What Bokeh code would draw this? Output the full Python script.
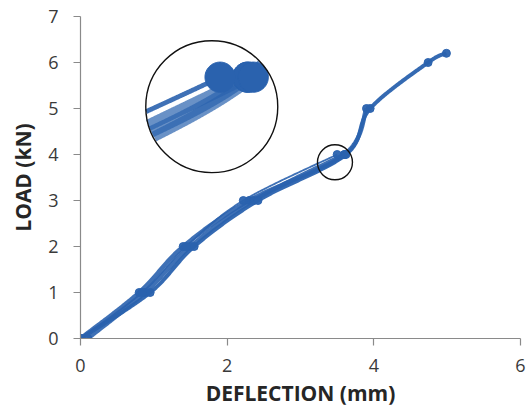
import numpy as np
from bokeh.plotting import figure
from bokeh.models import Range1d
from bokeh.embed import file_html
from bokeh.resources import INLINE

# ---------------- data ----------------
x_ticks = [0, 2, 4, 6]
y_ticks = [0, 1, 2, 3, 4, 5, 6, 7]

defl_a = [0.00, 0.95, 1.55, 2.42, 3.62, 3.95, 4.74, 4.99]
load_a = [0.00, 1.00, 2.00, 3.00, 4.00, 5.00, 6.00, 6.20]

defl_b = [0.00, 0.80, 1.40, 2.30, 3.60, 3.90]
load_b = [0.00, 1.00, 2.00, 3.00, 4.00, 5.00]

defl_c = [0.00, 0.84, 1.44, 2.22, 3.50]
load_c = [0.00, 1.00, 2.00, 3.00, 4.00]

defl_d = [0.10, 0.88, 1.50, 2.36, 3.60]
load_d = [0.00, 1.00, 2.00, 3.00, 4.00]

# magnifier (zoom circle) : small circle around the 4 kN region, big inset circle
zoom_src = (3.47, 3.83)
zoom_dst = (1.79, 5.04)

# ---------------- layout ----------------
X_MIN, X_MAX = 0, 6
Y_MIN, Y_MAX = 0, 7
FRAME_W, FRAME_H = 440, 322
SX = FRAME_W / (X_MAX - X_MIN)
SY = FRAME_H / (Y_MAX - Y_MIN)
R_SMALL = 17.5
R_BIG = 66.0
MAG = R_BIG / R_SMALL

BLUE = "#2A62AE"
FONT = "Open Sans"

p = figure(frame_width=FRAME_W, frame_height=FRAME_H,
           x_range=Range1d(X_MIN, X_MAX), y_range=Range1d(Y_MIN, Y_MAX),
           output_backend="svg", toolbar_location=None,
           min_border_left=80, min_border_right=8, min_border_top=16, min_border_bottom=68)
p.outline_line_color = None
p.xgrid.visible = False
p.ygrid.visible = False
p.background_fill_color = "white"
p.border_fill_color = "white"


def smooth(xs, ys, n=60):
    P = np.column_stack([xs, ys]).astype(float)
    out = []
    for i in range(len(P) - 1):
        p0 = P[i - 1] if i > 0 else P[i]
        p1 = P[i]
        p2 = P[i + 1]
        p3 = P[i + 2] if i + 2 < len(P) else P[i + 1]
        c1 = p1 + (p2 - p0) / 6.0
        c2 = p2 - (p3 - p1) / 6.0
        t = np.linspace(0, 1, n, endpoint=(i == len(P) - 2))[:, None]
        b = ((1 - t) ** 3) * p1 + 3 * ((1 - t) ** 2) * t * c1 + 3 * (1 - t) * t ** 2 * c2 + t ** 3 * p2
        out.append(b)
    B = np.vstack(out)
    return B[:, 0], B[:, 1]


def to_inset(x, y):
    return (zoom_dst[0] + MAG * (np.asarray(x) - zoom_src[0]),
            zoom_dst[1] + MAG * (np.asarray(y) - zoom_src[1]))


def inside_big(x, y):
    return ((np.asarray(x) - zoom_dst[0]) * SX) ** 2 + ((np.asarray(y) - zoom_dst[1]) * SY) ** 2 <= R_BIG ** 2


def clipped_disc(cx, cy, r_px):
    # intersection of a disc (marker) with the big inset circle, as polygon in data coords
    a = np.linspace(0, 2 * np.pi, 90, endpoint=False)
    mx = cx + r_px * np.cos(a) / SX
    my = cy + r_px * np.sin(a) / SY
    keep = inside_big(mx, my)
    ang = np.linspace(0, 2 * np.pi, 720, endpoint=False)
    bx = zoom_dst[0] + R_BIG * np.cos(ang) / SX
    by = zoom_dst[1] + R_BIG * np.sin(ang) / SY
    inm = ((bx - cx) * SX) ** 2 + ((by - cy) * SY) ** 2 <= r_px ** 2
    px = np.concatenate([mx[keep], bx[inm]])
    py = np.concatenate([my[keep], by[inm]])
    if len(px) < 3:
        return None
    gx, gy = px.mean(), py.mean()
    order = np.argsort(np.arctan2((py - gy) * SY, (px - gx) * SX))
    return list(px[order]), list(py[order])


series = [
    (defl_b, load_b, 4.4, 0.9),
    (defl_d, load_d, 4.4, 0.9),
    (defl_a, load_a, 4.0, 0.95),
    (defl_c, load_c, 1.8, 0.9),
]

for xs, ys, lw, al in series:
    sx_, sy_ = smooth(xs, ys)
    p.line(sx_, sy_, line_color=BLUE, line_width=lw, line_alpha=al, line_join="round")
    p.scatter(xs, ys, marker="circle", size=8, fill_color=BLUE, line_color=BLUE, alpha=0.95)

# ---------------- magnified inset ----------------
patch_xs, patch_ys = [], []
for xs, ys, lw, al in series:
    sx_, sy_ = smooth(xs, ys, n=400)
    ix, iy = to_inset(sx_, sy_)
    mask = inside_big(ix, iy)
    ix = np.where(mask, ix, np.nan)
    iy = np.where(mask, iy, np.nan)
    if np.any(mask):
        p.line(ix, iy, line_color=BLUE, line_width=min(lw * MAG * 0.7, 12), line_alpha=0.7 if lw > 2 else 0.9,
               line_cap="butt", line_join="round")
    mx, my = to_inset(xs, ys)
    for cx, cy in zip(mx, my):
        poly = clipped_disc(cx, cy, 4.0 * MAG)
        if poly is not None:
            patch_xs.append(poly[0])
            patch_ys.append(poly[1])

if patch_xs:
    p.patches(patch_xs, patch_ys, fill_color=BLUE, line_color=BLUE, line_width=1)

# circles of the magnifier
p.scatter([zoom_src[0]], [zoom_src[1]], marker="circle", size=2 * R_SMALL,
          fill_alpha=0, line_color="#111111", line_width=1.4)
p.scatter([zoom_dst[0]], [zoom_dst[1]], marker="circle", size=2 * R_BIG,
          fill_alpha=0, line_color="#111111", line_width=1.4)

# ---------------- axes ----------------
for ax in (p.xaxis[0], p.yaxis[0]):
    ax.axis_line_color = "#8A8A8A"
    ax.axis_line_width = 1.2
    ax.major_tick_line_color = "#8A8A8A"
    ax.major_tick_line_width = 1.2
    ax.major_tick_out = 7
    ax.major_tick_in = 0
    ax.minor_tick_line_color = None
    ax.major_label_text_font = FONT
    ax.major_label_text_font_size = "18px"
    ax.major_label_text_color = "#3A3A3A"
    ax.axis_label_text_font = FONT
    ax.axis_label_text_font_style = "bold"
    ax.axis_label_text_font_size = "21px"
    ax.axis_label_text_color = "#262626"

p.xaxis.ticker = x_ticks
p.yaxis.ticker = y_ticks
p.xaxis.axis_label = "DEFLECTION (mm)"
p.yaxis.axis_label = "LOAD (kN)"
p.xaxis.major_label_standoff = 13
p.yaxis.major_label_standoff = 15
p.xaxis.axis_label_standoff = 4
p.yaxis.axis_label_standoff = 8

open("out.html", "w").write(file_html(p, INLINE))
